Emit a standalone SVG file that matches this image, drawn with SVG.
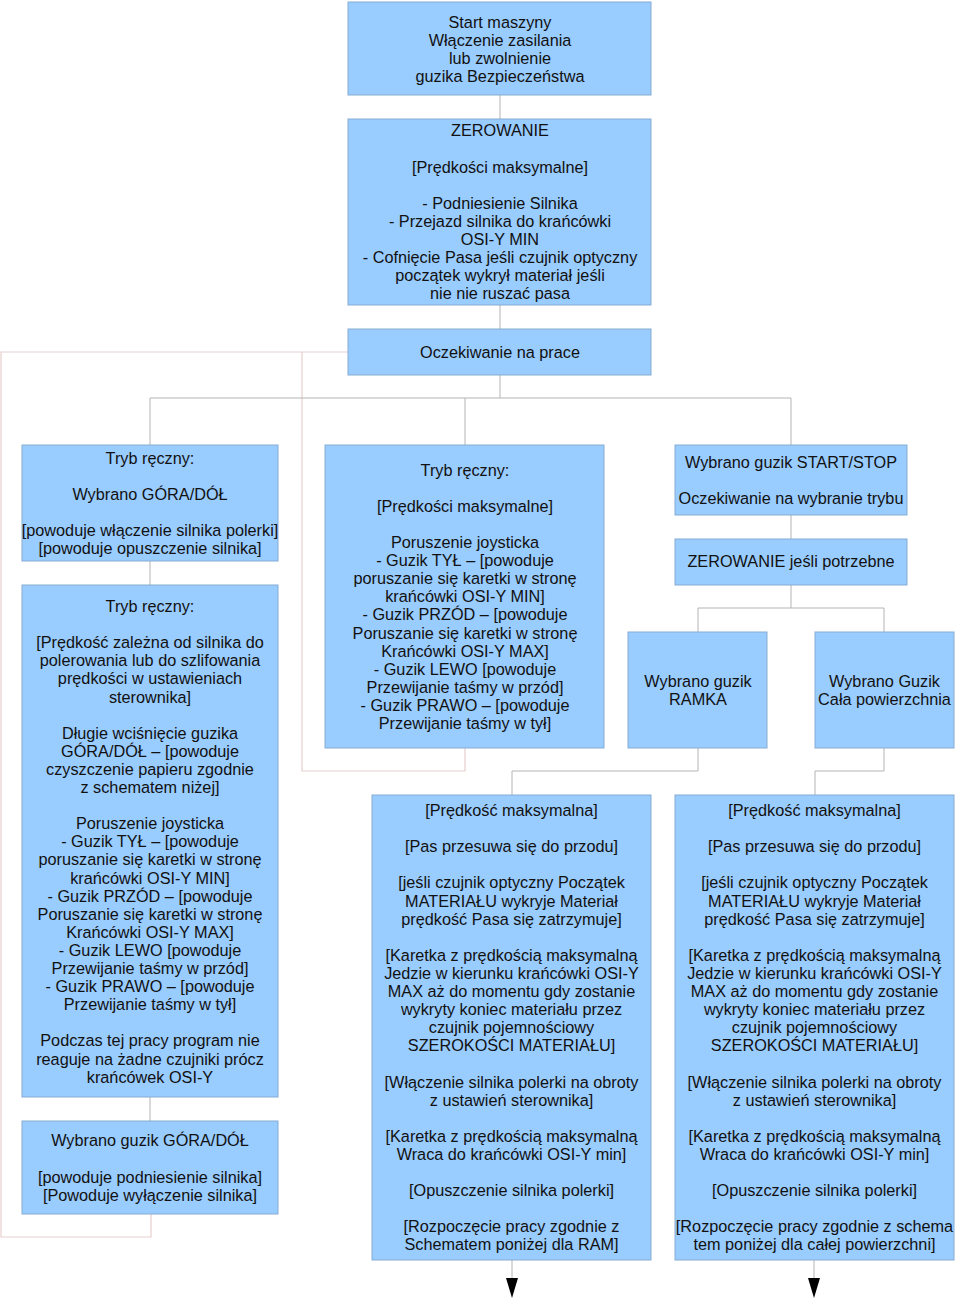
<svg xmlns="http://www.w3.org/2000/svg" width="960" height="1301" viewBox="0 0 960 1301">
<style>
.box{fill:#99ccff;stroke:#86acd3;stroke-width:1}
.t{font-family:"Liberation Sans",Arial,sans-serif;font-size:16.25px;fill:#111;text-anchor:middle}
.c{fill:none;stroke:#b4b4b4;stroke-width:1}
.p{fill:none;stroke:#e8cfcf;stroke-width:1.2}
.a{fill:#000}
</style>
<rect width="960" height="1301" fill="#fff"/>
<g id="connectors">
<path class="p" d="M348,352 H1 V1237 H151 V1214"/>
<path class="p" d="M302,352 V771 H465 V748"/>
<path class="c" d="M500,95 V119"/>
<path class="c" d="M500,305 V329"/>
<path class="c" d="M500,375 V398 M150,398 H791 M150,398 V445 M465,398 V445 M791,398 V445"/>
<path class="c" d="M150,561 V585 M150,1097 V1121"/>
<path class="c" d="M791,515 V539"/>
<path class="c" d="M791,585 V608 M698,608 H884 M698,608 V632 M884,608 V632"/>
<path class="c" d="M698,748 V771 H512 V795"/>
<path class="c" d="M884,748 V771 H815 V795"/>
<path class="c" d="M512,1260 V1278 M814,1260 V1278"/>
<polygon class="a" points="506,1278 518,1278 512,1298"/>
<polygon class="a" points="808,1278 820,1278 814,1298"/>
</g>
<g id="n_start">
<rect class="box" x="348" y="2" width="303" height="93"/>
<text class="t"><tspan x="500" y="28">Start maszyny</tspan><tspan x="500" y="46">Włączenie zasilania</tspan><tspan x="500" y="64">lub zwolnienie</tspan><tspan x="500" y="82">guzika Bezpieczeństwa</tspan></text>
</g>
<g id="n_zerowanie">
<rect class="box" x="348" y="119" width="303" height="186"/>
<text class="t"><tspan x="500" y="136">ZEROWANIE</tspan><tspan x="500" y="173">[Prędkości maksymalne]</tspan><tspan x="500" y="209">- Podniesienie Silnika</tspan><tspan x="500" y="227">- Przejazd silnika do krańcówki</tspan><tspan x="500" y="245">OSI-Y MIN</tspan><tspan x="500" y="263">- Cofnięcie Pasa jeśli czujnik optyczny</tspan><tspan x="500" y="281">początek wykrył materiał jeśli</tspan><tspan x="500" y="299">nie nie ruszać pasa</tspan></text>
</g>
<g id="n_oczekiwanie">
<rect class="box" x="348" y="329" width="303" height="46"/>
<text class="t"><tspan x="500" y="358">Oczekiwanie na prace</tspan></text>
</g>
<g id="n_tryb1">
<rect class="box" x="22" y="445" width="256" height="116"/>
<text class="t"><tspan x="150" y="464">Tryb ręczny:</tspan><tspan x="150" y="500">Wybrano GÓRA/DÓŁ</tspan><tspan x="150" y="536">[powoduje włączenie silnika polerki]</tspan><tspan x="150" y="554">[powoduje opuszczenie silnika]</tspan></text>
</g>
<g id="n_tryb2">
<rect class="box" x="22" y="585" width="256" height="512"/>
<text class="t"><tspan x="150" y="612">Tryb ręczny:</tspan><tspan x="150" y="648.2">[Prędkość zależna od silnika do</tspan><tspan x="150" y="666.3">polerowania lub do szlifowania</tspan><tspan x="150" y="684.4">prędkości w ustawieniach</tspan><tspan x="150" y="702.5">sterownika]</tspan><tspan x="150" y="738.7">Długie wciśnięcie guzika</tspan><tspan x="150" y="756.8">GÓRA/DÓŁ – [powoduje</tspan><tspan x="150" y="774.9">czyszczenie papieru zgodnie</tspan><tspan x="150" y="793">z schematem niżej]</tspan><tspan x="150" y="829.2">Poruszenie joysticka</tspan><tspan x="150" y="847.3">- Guzik TYŁ – [powoduje</tspan><tspan x="150" y="865.4">poruszanie się karetki w stronę</tspan><tspan x="150" y="883.5">krańcówki OSI-Y MIN]</tspan><tspan x="150" y="901.6">- Guzik PRZÓD – [powoduje</tspan><tspan x="150" y="919.7">Poruszanie się karetki w stronę</tspan><tspan x="150" y="937.8">Krańcówki OSI-Y MAX]</tspan><tspan x="150" y="955.9">- Guzik LEWO [powoduje</tspan><tspan x="150" y="974">Przewijanie taśmy w przód]</tspan><tspan x="150" y="992.1">- Guzik PRAWO – [powoduje</tspan><tspan x="150" y="1010.2">Przewijanie taśmy w tył]</tspan><tspan x="150" y="1046.4">Podczas tej pracy program nie</tspan><tspan x="150" y="1064.5">reaguje na żadne czujniki prócz</tspan><tspan x="150" y="1082.6">krańcówek OSI-Y</tspan></text>
</g>
<g id="n_goradol">
<rect class="box" x="22" y="1121" width="256" height="93"/>
<text class="t"><tspan x="150" y="1146">Wybrano guzik GÓRA/DÓŁ</tspan><tspan x="150" y="1183">[powoduje podniesienie silnika]</tspan><tspan x="150" y="1201">[Powoduje wyłączenie silnika]</tspan></text>
</g>
<g id="n_tryb3">
<rect class="box" x="325" y="445" width="279" height="303"/>
<text class="t"><tspan x="465" y="476">Tryb ręczny:</tspan><tspan x="465" y="512">[Prędkości maksymalne]</tspan><tspan x="465" y="548">Poruszenie joysticka</tspan><tspan x="465" y="566.1">- Guzik TYŁ – [powoduje</tspan><tspan x="465" y="584.2">poruszanie się karetki w stronę</tspan><tspan x="465" y="602.3">krańcówki OSI-Y MIN]</tspan><tspan x="465" y="620.4">- Guzik PRZÓD – [powoduje</tspan><tspan x="465" y="638.5">Poruszanie się karetki w stronę</tspan><tspan x="465" y="656.6">Krańcówki OSI-Y MAX]</tspan><tspan x="465" y="674.7">- Guzik LEWO [powoduje</tspan><tspan x="465" y="692.8">Przewijanie taśmy w przód]</tspan><tspan x="465" y="710.9">- Guzik PRAWO – [powoduje</tspan><tspan x="465" y="729">Przewijanie taśmy w tył]</tspan></text>
</g>
<g id="n_startstop">
<rect class="box" x="675" y="445" width="232" height="70"/>
<text class="t"><tspan x="791" y="468">Wybrano guzik START/STOP</tspan><tspan x="791" y="504">Oczekiwanie na wybranie trybu</tspan></text>
</g>
<g id="n_zer2">
<rect class="box" x="675" y="539" width="232" height="46"/>
<text class="t"><tspan x="791" y="567">ZEROWANIE jeśli potrzebne</tspan></text>
</g>
<g id="n_ramka">
<rect class="box" x="628" y="632" width="139" height="116"/>
<text class="t"><tspan x="698" y="687">Wybrano guzik</tspan><tspan x="698" y="705">RAMKA</tspan></text>
</g>
<g id="n_cala">
<rect class="box" x="815" y="632" width="139" height="116"/>
<text class="t"><tspan x="884.5" y="687">Wybrano Guzik</tspan><tspan x="884.5" y="705">Cała powierzchnia</tspan></text>
</g>
<g id="n_proc_ramka">
<rect class="box" x="372" y="795" width="279" height="465"/>
<text class="t"><tspan x="511.5" y="816">[Prędkość maksymalna]</tspan><tspan x="511.5" y="852.2">[Pas przesuwa się do przodu]</tspan><tspan x="511.5" y="888.4">[jeśli czujnik optyczny Początek</tspan><tspan x="511.5" y="906.5">MATERIAŁU wykryje Materiał</tspan><tspan x="511.5" y="924.6">prędkość Pasa się zatrzymuje]</tspan><tspan x="511.5" y="960.8">[Karetka z prędkością maksymalną</tspan><tspan x="511.5" y="978.9">Jedzie w kierunku krańcówki OSI-Y</tspan><tspan x="511.5" y="997">MAX aż do momentu gdy zostanie</tspan><tspan x="511.5" y="1015.1">wykryty  koniec materiału przez</tspan><tspan x="511.5" y="1033.2">czujnik pojemnościowy</tspan><tspan x="511.5" y="1051.3">SZEROKOŚCI MATERIAŁU]</tspan><tspan x="511.5" y="1087.5">[Włączenie silnika polerki na obroty</tspan><tspan x="511.5" y="1105.6">z ustawień sterownika]</tspan><tspan x="511.5" y="1141.8">[Karetka z prędkością maksymalną</tspan><tspan x="511.5" y="1159.9">Wraca do krańcówki OSI-Y min]</tspan><tspan x="511.5" y="1196.1">[Opuszczenie silnika polerki]</tspan><tspan x="511.5" y="1232.3">[Rozpoczęcie pracy zgodnie z</tspan><tspan x="511.5" y="1250.4">Schematem poniżej dla RAM]</tspan></text>
</g>
<g id="n_proc_cala">
<rect class="box" x="675" y="795" width="279" height="465"/>
<text class="t"><tspan x="814.5" y="816">[Prędkość maksymalna]</tspan><tspan x="814.5" y="852.2">[Pas przesuwa się do przodu]</tspan><tspan x="814.5" y="888.4">[jeśli czujnik optyczny Początek</tspan><tspan x="814.5" y="906.5">MATERIAŁU wykryje Materiał</tspan><tspan x="814.5" y="924.6">prędkość Pasa się zatrzymuje]</tspan><tspan x="814.5" y="960.8">[Karetka z prędkością maksymalną</tspan><tspan x="814.5" y="978.9">Jedzie w kierunku krańcówki OSI-Y</tspan><tspan x="814.5" y="997">MAX aż do momentu gdy zostanie</tspan><tspan x="814.5" y="1015.1">wykryty  koniec materiału przez</tspan><tspan x="814.5" y="1033.2">czujnik pojemnościowy</tspan><tspan x="814.5" y="1051.3">SZEROKOŚCI MATERIAŁU]</tspan><tspan x="814.5" y="1087.5">[Włączenie silnika polerki na obroty</tspan><tspan x="814.5" y="1105.6">z ustawień sterownika]</tspan><tspan x="814.5" y="1141.8">[Karetka z prędkością maksymalną</tspan><tspan x="814.5" y="1159.9">Wraca do krańcówki OSI-Y min]</tspan><tspan x="814.5" y="1196.1">[Opuszczenie silnika polerki]</tspan><tspan x="814.5" y="1232.3">[Rozpoczęcie pracy zgodnie z schema</tspan><tspan x="814.5" y="1250.4">tem poniżej dla całej powierzchni]</tspan></text>
</g>
</svg>
